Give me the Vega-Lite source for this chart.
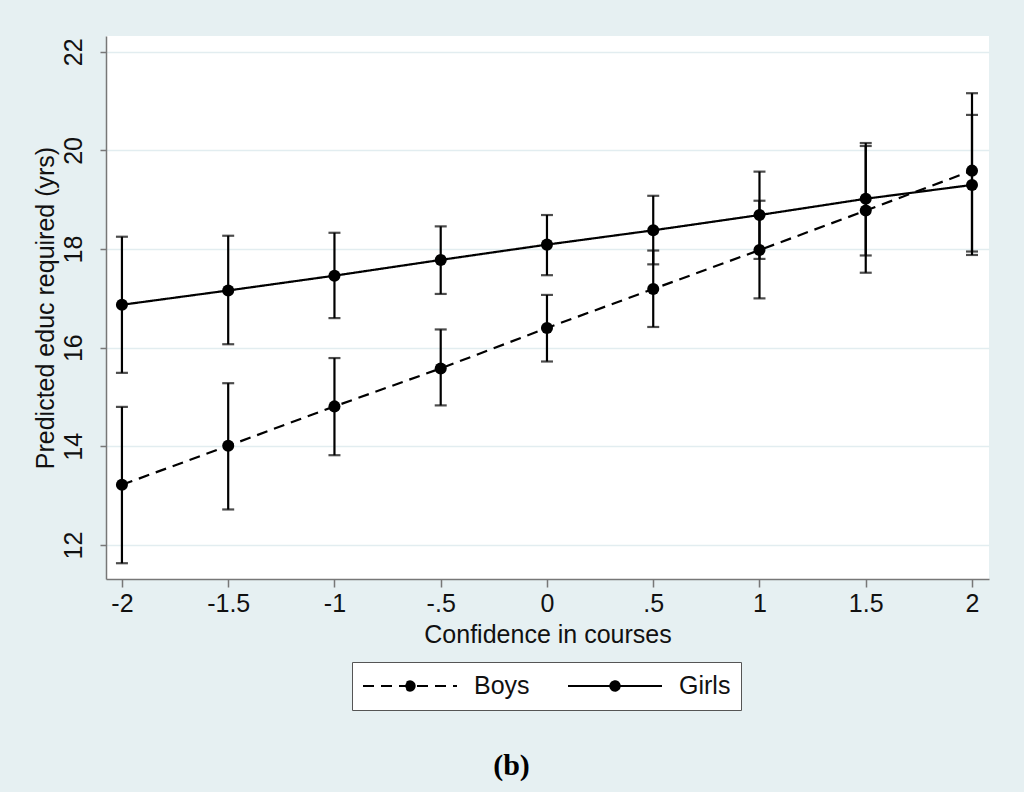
{
  "$schema": "https://vega.github.io/schema/vega-lite/v6.json",
  "autosize": {"type": "none"},
  "padding": {"left": 106, "top": 36, "right": 35, "bottom": 213},
  "width": 883,
  "height": 543,
  "background": "#e6f0f2",
  "view": {"fill": "white", "stroke": null},
  "title": {
    "text": "(b)",
    "orient": "bottom",
    "anchor": "middle",
    "font": "Liberation Serif",
    "fontSize": 30,
    "fontWeight": "bold",
    "color": "black",
    "offset": 40,
    "dx": -36
  },
  "config": {
    "font": "Liberation Sans",
    "axis": {
      "domainColor": "#777777",
      "domainWidth": 1.5,
      "tickColor": "#777777",
      "tickWidth": 1.5,
      "labelFont": "Liberation Sans",
      "labelFontSize": 25,
      "labelColor": "#111111",
      "titleFont": "Liberation Sans",
      "titleFontSize": 25,
      "titleFontWeight": "normal",
      "titleColor": "#111111"
    }
  },
  "data": {
    "values": [
      {"conf": -2, "group": "Boys", "pred": 13.22, "lo": 11.63, "hi": 14.80},
      {"conf": -1.5, "group": "Boys", "pred": 14.01, "lo": 12.72, "hi": 15.28},
      {"conf": -1, "group": "Boys", "pred": 14.81, "lo": 13.82, "hi": 15.79},
      {"conf": -0.5, "group": "Boys", "pred": 15.58, "lo": 14.83, "hi": 16.37},
      {"conf": 0, "group": "Boys", "pred": 16.40, "lo": 15.72, "hi": 17.07},
      {"conf": 0.5, "group": "Boys", "pred": 17.19, "lo": 16.42, "hi": 17.97},
      {"conf": 1, "group": "Boys", "pred": 17.98, "lo": 17.00, "hi": 18.98},
      {"conf": 1.5, "group": "Boys", "pred": 18.78, "lo": 17.52, "hi": 20.09},
      {"conf": 2, "group": "Boys", "pred": 19.59, "lo": 17.95, "hi": 21.16},
      {"conf": -2, "group": "Girls", "pred": 16.87, "lo": 15.49, "hi": 18.25},
      {"conf": -1.5, "group": "Girls", "pred": 17.16, "lo": 16.07, "hi": 18.27},
      {"conf": -1, "group": "Girls", "pred": 17.46, "lo": 16.60, "hi": 18.33},
      {"conf": -0.5, "group": "Girls", "pred": 17.78, "lo": 17.09, "hi": 18.46},
      {"conf": 0, "group": "Girls", "pred": 18.09, "lo": 17.47, "hi": 18.69},
      {"conf": 0.5, "group": "Girls", "pred": 18.38, "lo": 17.69, "hi": 19.08},
      {"conf": 1, "group": "Girls", "pred": 18.69, "lo": 17.80, "hi": 19.57},
      {"conf": 1.5, "group": "Girls", "pred": 19.02, "lo": 17.87, "hi": 20.15},
      {"conf": 2, "group": "Girls", "pred": 19.30, "lo": 17.88, "hi": 20.72}
    ]
  },
  "encoding": {
    "x": {
      "field": "conf",
      "type": "quantitative",
      "scale": {"domain": [-2.075, 2.08], "nice": false, "zero": false},
      "axis": {
        "title": "Confidence in courses",
        "values": [-2, -1.5, -1, -0.5, 0, 0.5, 1, 1.5, 2],
        "labelExpr": "replace(toString(datum.value), '0.', '.')",
        "grid": false,
        "tickSize": 8,
        "labelPadding": 4,
        "titlePadding": 6,
        "labelFlush": false
      }
    }
  },
  "layer": [
    {
      "mark": {"type": "rule", "color": "black", "strokeWidth": 2.2},
      "encoding": {
        "y": {
          "field": "lo",
          "type": "quantitative",
          "scale": {"domain": [11.31, 22.32], "nice": false, "zero": false},
          "axis": {
            "title": "Predicted educ required (yrs)",
            "values": [12, 14, 16, 18, 20, 22],
            "grid": true,
            "gridColor": "#e2edf0",
            "gridWidth": 1.5,
            "labelAngle": -90,
            "tickSize": 6,
            "labelPadding": 14,
            "titlePadding": 3
          }
        },
        "y2": {"field": "hi"},
        "detail": {"field": "group"}
      }
    },
    {
      "mark": {"type": "tick", "orient": "horizontal", "color": "black", "size": 12, "thickness": 2.2},
      "encoding": {
        "y": {"field": "lo", "type": "quantitative"},
        "detail": {"field": "group"}
      }
    },
    {
      "mark": {"type": "tick", "orient": "horizontal", "color": "black", "size": 12, "thickness": 2.2},
      "encoding": {
        "y": {"field": "hi", "type": "quantitative"},
        "detail": {"field": "group"}
      }
    },
    {
      "mark": {"type": "line", "color": "black", "strokeWidth": 2.2},
      "encoding": {
        "y": {"field": "pred", "type": "quantitative"},
        "strokeDash": {
          "field": "group",
          "type": "nominal",
          "scale": {"domain": ["Boys", "Girls"], "range": [[11, 7], [1, 0]]},
          "legend": {
            "title": null,
            "orient": "none",
            "legendX": 246,
            "legendY": 626,
            "direction": "horizontal",
            "columns": 2,
            "columnPadding": 37,
            "padding": 10,
            "strokeColor": "#555555",
            "fillColor": "white",
            "labelFont": "Liberation Sans",
            "labelFontSize": 25,
            "labelColor": "#111111",
            "labelOffset": 16,
            "symbolType": "M-1,0L1,0M0.1,0A0.1,0.1,0,1,1,-0.1,0A0.1,0.1,0,1,1,0.1,0Z",
            "symbolSize": 8836,
            "symbolStrokeWidth": 2,
            "symbolStrokeColor": "black",
            "symbolFillColor": "black",
            "clipHeight": 28,
            "encode": {
              "symbols": {
                "update": {
                  "fill": {"value": "black"},
                  "stroke": {"value": "black"},
                  "strokeWidth": {"value": 2}
                }
              }
            }
          }
        }
      }
    },
    {
      "mark": {"type": "circle", "color": "black", "opacity": 1, "size": 145},
      "encoding": {
        "y": {"field": "pred", "type": "quantitative"},
        "detail": {"field": "group"}
      }
    }
  ]
}
